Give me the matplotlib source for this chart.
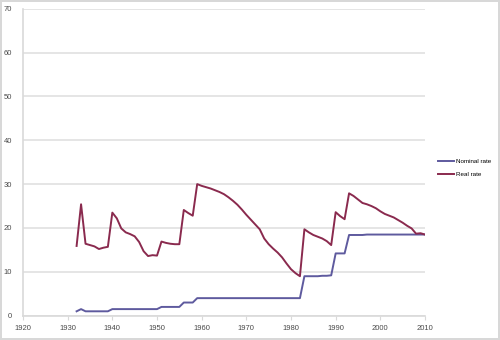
import matplotlib.pyplot as plt

# Years and rates (percent)
years = list(range(1932, 2011))

nominal_rate = [
    1.0, 1.5, 1.0, 1.0, 1.0, 1.0, 1.0, 1.0,             # 1932-1939
    1.5, 1.5, 1.5, 1.5, 1.5, 1.5, 1.5, 1.5, 1.5, 1.5, 1.5,  # 1940-1950
    2.0, 2.0, 2.0, 2.0, 2.0,                            # 1951-1955
    3.0, 3.0, 3.0,                                      # 1956-1958
    4.0, 4.0, 4.0, 4.0, 4.0, 4.0, 4.0, 4.0, 4.0, 4.0, 4.0, 4.0,  # 1959-1970
    4.0, 4.0, 4.0, 4.0, 4.0, 4.0, 4.0, 4.0, 4.0, 4.0, 4.0, 4.0,  # 1971-1982
    9.0, 9.0, 9.0, 9.0, 9.1, 9.1, 9.2,                  # 1983-1989
    14.2, 14.2, 14.2,                                   # 1990-1992
    18.4, 18.4, 18.4, 18.4, 18.5, 18.5, 18.5, 18.5, 18.5,  # 1993-2001
    18.5, 18.5, 18.5, 18.5, 18.5, 18.5, 18.5, 18.5, 18.5,  # 2002-2010
]

real_rate = [
    15.9, 25.4, 16.4, 16.1, 15.8, 15.2, 15.5, 15.7,     # 1932-1939
    23.5, 22.2, 19.9, 19.0, 18.6, 18.1, 16.8, 14.7, 13.6, 13.8, 13.7,  # 1940-1950
    16.9, 16.6, 16.4, 16.3, 16.3,                       # 1951-1955
    24.1, 23.4, 22.8,                                   # 1956-1958
    30.0, 29.6, 29.3, 29.0, 28.6, 28.2, 27.7, 27.0, 26.2, 25.3, 24.2, 23.0,  # 1959-1970
    21.9, 20.8, 19.7, 17.6, 16.3, 15.3, 14.4, 13.3, 11.9, 10.6, 9.7, 9.0,    # 1971-1982
    19.7, 19.0, 18.4, 18.0, 17.6, 17.0, 16.1,           # 1983-1989
    23.6, 22.7, 22.0,                                   # 1990-1992
    27.9, 27.3, 26.5, 25.7, 25.4, 25.0, 24.5, 23.8, 23.2,  # 1993-2001
    22.8, 22.4, 21.8, 21.2, 20.5, 19.9, 18.7, 18.8, 18.5,  # 2002-2010
]

x_ticks = [1920, 1930, 1940, 1950, 1960, 1970, 1980, 1990, 2000, 2010]
y_ticks = [0, 10, 20, 30, 40, 50, 60, 70]

plt.rcParams['font.family'] = ['Liberation Sans', 'DejaVu Sans']

fig = plt.figure(figsize=(5, 3.4), dpi=100)
fig.patch.set_edgecolor('#d8d8d8')
fig.patch.set_linewidth(1.5)
ax = fig.add_axes([0.046, 0.0715, 0.804, 0.903])

ax.plot(years, nominal_rate, color='#5e5a9e', lw=1.4, label='Nominal rate')
ax.plot(years, real_rate, color='#8a2a4e', lw=1.4, label='Real rate')

ax.set_xlim(1920, 2010)
ax.set_ylim(0, 70)
ax.set_xticks(x_ticks)
ax.set_yticks(y_ticks)
ax.yaxis.grid(True, color='#e0e0e0', lw=1.2)
ax.set_axisbelow(True)

for side in ('top', 'right'):
    ax.spines[side].set_visible(False)
for side in ('left', 'bottom'):
    ax.spines[side].set_color('#d9d9d9')
    ax.spines[side].set_linewidth(1.2)

ax.tick_params(axis='x', length=3, color='#d9d9d9', labelsize=5.5, labelcolor='#4a4a4a', pad=3.5)
ax.tick_params(axis='y', length=0, labelsize=5.5, labelcolor='#4a4a4a', pad=8)

ax.legend(loc='upper left', bbox_to_anchor=(0.87, 0.54), bbox_transform=fig.transFigure,
          frameon=False, fontsize=4.5, handlelength=2.6, handletextpad=0.3,
          labelspacing=1.2, borderaxespad=0)

fig.savefig('out.png', dpi=100)
